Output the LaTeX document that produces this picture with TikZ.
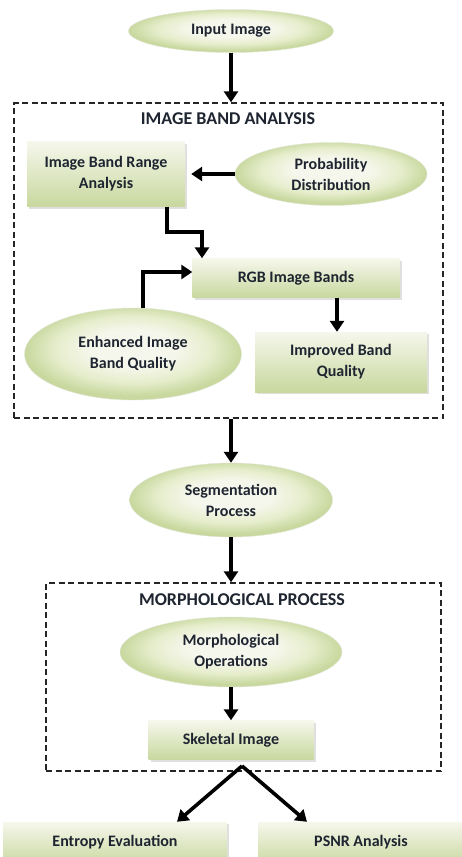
\documentclass[tikz,border=0pt]{standalone}
\usepackage{fontspec}
\setmainfont{Carlito}
\usetikzlibrary{arrows.meta,shapes.geometric,shadows,calc}
\definecolor{txt}{HTML}{1E2530}
\definecolor{gLight}{HTML}{F6F7EC}
\definecolor{gMid}{HTML}{E6EDCC}
\definecolor{gDark}{HTML}{C8D89E}
\pgfdeclareradialshading{ovalshade}{\pgfpoint{0bp}{4bp}}{color(0bp)=(gLight); color(10bp)=(gLight); color(18bp)=(gMid); color(25bp)=(gDark); color(50bp)=(gDark)}
\begin{document}
\begin{tikzpicture}[x=1pt,y=-1pt,
  every node/.style={font=\fontsize{16}{21}\selectfont\bfseries, text=txt, align=center, inner sep=0pt},
  oval/.style={ellipse, shading=ovalshade, draw=gDark!80!black!30},
  rbox/.style={rectangle, top color=gLight, bottom color=gDark, drop shadow={shadow xshift=2pt, shadow yshift=-2pt, opacity=0.25}},
  dbox/.style={rectangle, draw=black!85, line width=1.4pt, dash pattern=on 6pt off 3.5pt},
  arr/.style={line width=3.6pt, -{Triangle[length=11pt,width=14pt]}},
  ttl/.style={font=\fontsize{18}{21}\selectfont\bfseries}
]
\useasboundingbox (0,0) rectangle (462,857);
\fill[white] (0,0) rectangle (462,857);
\clip (0,0) rectangle (462,857);

% boxes
\node[dbox, minimum width=429pt, minimum height=315pt] (box1) at (228.5,260.5) {};
\node[dbox, minimum width=395pt, minimum height=188pt] (box2) at (243.5,677) {};
\node[ttl] (t1) at (228,119) {IMAGE BAND ANALYSIS};
\node[ttl] (t2) at (242,600) {MORPHOLOGICAL PROCESS};

% nodes
\node[oval, minimum width=205pt, minimum height=43pt] (in) at (231,31) {Input Image};
\node[rbox, minimum width=158pt, minimum height=65pt] (ibra) at (106,174) {Image Band Range\\Analysis};
\node[oval, minimum width=192pt, minimum height=63pt] (prob) at (331,174) {Probability\\Distribution};
\node[rbox, minimum width=207pt, minimum height=39pt] (rgb) at (296,278) {RGB Image Bands};
\node[oval, minimum width=217pt, minimum height=92pt] (enh) at (133,354) {Enhanced Image\\Band Quality};
\node[rbox, minimum width=172pt, minimum height=60pt] (imp) at (341,362) {Improved Band\\Quality};
\node[oval, minimum width=203pt, minimum height=74pt] (seg) at (231,500) {Segmentation\\Process};
\node[oval, minimum width=222pt, minimum height=70pt] (mor) at (231,652) {Morphological\\Operations};
\node[rbox, minimum width=165pt, minimum height=39pt] (skel) at (231,740) {Skeletal Image};
\node[rbox, minimum width=224pt, minimum height=44pt] (ent) at (115,844) {\raisebox{6pt}{Entropy Evaluation}};
\node[rbox, minimum width=206pt, minimum height=44pt] (psnr) at (361,844) {\raisebox{6pt}{PSNR Analysis}};
\coordinate (split) at (242,766);

% connectors
\draw[arr] (in.south) -- (in.south |- box1.north);
\draw[arr, shorten >=6pt] (prob.west) -- (ibra.east);
\draw[arr] ([xshift=61pt]ibra.south) -- ++(0,25) -| ([xshift=-94pt]rgb.north);
\draw[arr] ([xshift=10pt]enh.north) |- ([yshift=6pt]rgb.west);
\draw[arr] ([xshift=41pt]rgb.south) -- ([xshift=-4pt]imp.north);
\draw[arr] (box1.south -| seg.north) -- (seg.north);
\draw[arr] (seg.south) -- (seg.south |- box2.north);
\draw[arr] (mor.south) -- (skel.north);
\draw[arr] (split) -- ([xshift=62pt]ent.north);
\draw[arr] (split) -- ([xshift=-54pt]psnr.north);
\end{tikzpicture}
\end{document}
